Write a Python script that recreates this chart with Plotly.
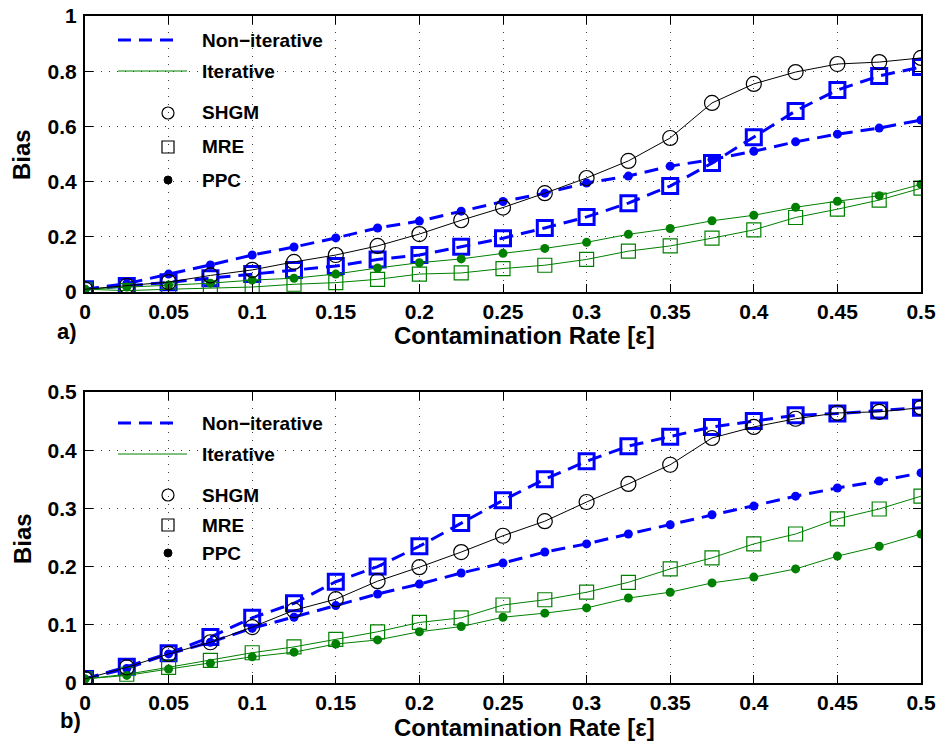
import plotly.graph_objects as go

# ---------------- data ----------------
eps = [round(0.025 * i, 3) for i in range(21)]

# panel a)
a_shgm = [0.01, 0.022, 0.036, 0.06, 0.08, 0.109, 0.134, 0.167, 0.21, 0.26, 0.306,
          0.358, 0.413, 0.475, 0.558, 0.685, 0.754, 0.797, 0.826, 0.833, 0.848]
a_mre_non = [0.01, 0.022, 0.035, 0.05, 0.065, 0.08, 0.094, 0.118, 0.134, 0.164, 0.195,
             0.232, 0.272, 0.322, 0.384, 0.467, 0.561, 0.656, 0.732, 0.783, 0.815]
a_ppc_non = [0.01, 0.03, 0.065, 0.098, 0.134, 0.163, 0.196, 0.232, 0.257, 0.293, 0.328,
             0.358, 0.395, 0.42, 0.456, 0.48, 0.51, 0.544, 0.572, 0.594, 0.623]
a_mre_it = [0.01, 0.005, 0.01, 0.015, 0.018, 0.028, 0.034, 0.046, 0.065, 0.069, 0.085,
            0.097, 0.118, 0.148, 0.167, 0.195, 0.225, 0.27, 0.3, 0.333, 0.376]
a_ppc_it = [0.01, 0.018, 0.025, 0.032, 0.043, 0.05, 0.065, 0.087, 0.106, 0.12, 0.14,
            0.158, 0.18, 0.209, 0.23, 0.258, 0.278, 0.307, 0.329, 0.349, 0.39]

# panel b)
b_shgm = [0.007, 0.027, 0.05, 0.07, 0.096, 0.125, 0.144, 0.175, 0.199, 0.225, 0.253,
          0.278, 0.311, 0.342, 0.375, 0.421, 0.44, 0.454, 0.464, 0.466, 0.473]
b_mre_non = [0.007, 0.028, 0.051, 0.079, 0.112, 0.137, 0.174, 0.2, 0.235, 0.275, 0.314,
             0.35, 0.381, 0.407, 0.423, 0.44, 0.45, 0.46, 0.463, 0.468, 0.473]
b_ppc_non = [0.007, 0.025, 0.05, 0.07, 0.094, 0.113, 0.133, 0.153, 0.17, 0.189, 0.206,
             0.225, 0.239, 0.256, 0.272, 0.289, 0.304, 0.321, 0.335, 0.347, 0.361]
b_mre_it = [0.007, 0.015, 0.027, 0.039, 0.052, 0.062, 0.075, 0.088, 0.104, 0.112, 0.134,
            0.143, 0.156, 0.173, 0.196, 0.215, 0.239, 0.256, 0.282, 0.299, 0.321]
b_ppc_it = [0.007, 0.013, 0.024, 0.034, 0.045, 0.053, 0.067, 0.074, 0.088, 0.097, 0.113,
            0.12, 0.129, 0.146, 0.156, 0.172, 0.182, 0.196, 0.218, 0.235, 0.256]

x_ticks = [0, 0.05, 0.1, 0.15, 0.2, 0.25, 0.3, 0.35, 0.4, 0.45, 0.5]
x_tick_text = ["0", "0.05", "0.1", "0.15", "0.2", "0.25", "0.3", "0.35", "0.4", "0.45", "0.5"]
ya_ticks = [0, 0.2, 0.4, 0.6, 0.8, 1]
ya_tick_text = ["0", "0.2", "0.4", "0.6", "0.8", "1"]
yb_ticks = [0, 0.1, 0.2, 0.3, 0.4, 0.5]
yb_tick_text = ["0", "0.1", "0.2", "0.3", "0.4", "0.5"]

legend_names = ["Non\u2212iterative", "Iterative", "SHGM", "MRE", "PPC"]

# ---------------- styles ----------------
BLUE = "#0000FF"
GREEN = "#008000"
DASH = "14px,8px"
FONT = "Liberation Sans, Arial, sans-serif"

W, H = 940, 744
ML, MR, MT, MB = 85, 19, 16, 61
plot_h = H - MT - MB
plot_w = W - ML - MR


def py(pix):
    return (H - MB - pix) / plot_h


def px(pix):
    return (pix - ML) / plot_w


fig = go.Figure()


def add_panel(xa, ya, shgm, mre_non, ppc_non, mre_it, ppc_it):
    fig.add_trace(go.Scatter(x=eps, y=ppc_non, mode="lines+markers", xaxis=xa, yaxis=ya,
                             line=dict(color=BLUE, width=3, dash=DASH),
                             marker=dict(symbol="circle", size=9, color=BLUE),
                             showlegend=False))
    fig.add_trace(go.Scatter(x=eps, y=mre_non, mode="lines+markers", xaxis=xa, yaxis=ya,
                             line=dict(color=BLUE, width=3, dash=DASH),
                             marker=dict(symbol="square-open", size=15, color=BLUE,
                                         line=dict(width=3, color=BLUE)),
                             showlegend=False))
    fig.add_trace(go.Scatter(x=eps, y=mre_it, mode="lines+markers", xaxis=xa, yaxis=ya,
                             line=dict(color=GREEN, width=1),
                             marker=dict(symbol="square-open", size=14, color=GREEN,
                                         line=dict(width=1.2, color=GREEN)),
                             showlegend=False))
    fig.add_trace(go.Scatter(x=eps, y=ppc_it, mode="lines+markers", xaxis=xa, yaxis=ya,
                             line=dict(color=GREEN, width=1),
                             marker=dict(symbol="circle", size=9, color=GREEN),
                             showlegend=False))
    fig.add_trace(go.Scatter(x=eps, y=shgm, mode="lines+markers", xaxis=xa, yaxis=ya,
                             line=dict(color="black", width=1),
                             marker=dict(symbol="circle-open", size=15, color="black",
                                         line=dict(width=1.2, color="black")),
                             showlegend=False))


add_panel("x", "y", a_shgm, a_mre_non, a_ppc_non, a_mre_it, a_ppc_it)
add_panel("x2", "y2", b_shgm, b_mre_non, b_ppc_non, b_mre_it, b_ppc_it)

# ---------------- layout ----------------
top_dom = [(683 - 292) / plot_h, 1.0]
bot_dom = [0.0, (683 - 392) / plot_h]

tickfont = dict(family=FONT, size=21, color="black", weight="bold")

common_x = dict(range=[0, 0.5], tickmode="array", tickvals=x_ticks, ticktext=x_tick_text,
                showgrid=True, gridcolor="rgba(0,0,0,0.75)", griddash="1px,7px", gridwidth=1,
                showline=True, linecolor="black", linewidth=2, mirror="ticks",
                ticks="inside", ticklen=8, tickwidth=1, tickcolor="black",
                tickfont=tickfont, zeroline=False, fixedrange=True)
common_y = dict(showgrid=True, gridcolor="rgba(0,0,0,0.75)", griddash="1px,7px", gridwidth=1,
                showline=True, linecolor="black", linewidth=2, mirror="ticks",
                ticks="inside", ticklen=8, tickwidth=1, tickcolor="black",
                tickfont=tickfont, zeroline=False, fixedrange=True, ticklabelstandoff=2)

fig.update_layout(
    width=W, height=H,
    margin=dict(l=ML, r=MR, t=MT, b=MB, autoexpand=False),
    paper_bgcolor="white", plot_bgcolor="white",
    xaxis=dict(domain=[0, 1], anchor="y", **common_x),
    yaxis=dict(domain=top_dom, anchor="x", range=[0, 1], tickmode="array",
               tickvals=ya_ticks, ticktext=ya_tick_text, **common_y),
    xaxis2=dict(domain=[0, 1], anchor="y2", **common_x),
    yaxis2=dict(domain=bot_dom, anchor="x2", range=[0, 0.5], tickmode="array",
                tickvals=yb_ticks, ticktext=yb_tick_text, **common_y),
    showlegend=False,
)

# ---------------- legends (drawn as shapes + text) ----------------
legend_font = dict(family=FONT, size=19, color="black", weight="bold")
# (row y positions in pixels for: Non-iterative, Iterative, SHGM, MRE, PPC)
legend_rows = {
    "top": [40, 71, 113, 147, 180],
    "bottom": [423, 454, 495, 525, 553],
}
LX0, LX_DASH_END, LX_LINE_END, LMARK, LTEXT = 118, 178, 187, 168, 200

for rows in legend_rows.values():
    r_non, r_it, r_sh, r_mre, r_ppc = rows
    fig.add_shape(type="line", xref="paper", yref="paper",
                  x0=px(LX0), x1=px(LX_DASH_END), y0=py(r_non), y1=py(r_non),
                  line=dict(color=BLUE, width=3, dash="13px,8px"))
    fig.add_shape(type="line", xref="paper", yref="paper",
                  x0=px(LX0), x1=px(LX_LINE_END), y0=py(r_it), y1=py(r_it),
                  line=dict(color=GREEN, width=1))
    fig.add_shape(type="circle", xref="paper", yref="paper",
                  xsizemode="pixel", ysizemode="pixel",
                  xanchor=px(LMARK), yanchor=py(r_sh), x0=-6, x1=6, y0=-6, y1=6,
                  line=dict(color="black", width=1.2))
    fig.add_shape(type="rect", xref="paper", yref="paper",
                  xsizemode="pixel", ysizemode="pixel",
                  xanchor=px(LMARK), yanchor=py(r_mre), x0=-6, x1=6, y0=-6, y1=6,
                  line=dict(color="black", width=1.2))
    fig.add_shape(type="circle", xref="paper", yref="paper",
                  xsizemode="pixel", ysizemode="pixel",
                  xanchor=px(LMARK), yanchor=py(r_ppc), x0=-4, x1=4, y0=-4, y1=4,
                  fillcolor="black", line=dict(color="black", width=1))
    for name, r in zip(legend_names, rows):
        fig.add_annotation(text=name, xref="paper", yref="paper", x=px(LTEXT), y=py(r),
                           xanchor="left", yanchor="middle", showarrow=False,
                           font=legend_font)

title_font = dict(family=FONT, size=24, color="black", weight="bold")
label_font = dict(family=FONT, size=22, color="black", weight="bold")

annots = [
    dict(text="Contamination Rate [\u03b5]", x=px(524), y=py(335), font=title_font),
    dict(text="Contamination Rate [\u03b5]", x=px(524), y=py(727), font=title_font),
    dict(text="Bias", x=px(22), y=py(154), font=title_font, textangle=-90),
    dict(text="Bias", x=px(22), y=py(538), font=title_font, textangle=-90),
    dict(text="a)", x=px(67), y=py(331), font=label_font),
    dict(text="b)", x=px(70), y=py(720), font=label_font),
]
for a in annots:
    fig.add_annotation(xref="paper", yref="paper", showarrow=False,
                       xanchor="center", yanchor="middle", **a)

fig.write_html("out.html")
